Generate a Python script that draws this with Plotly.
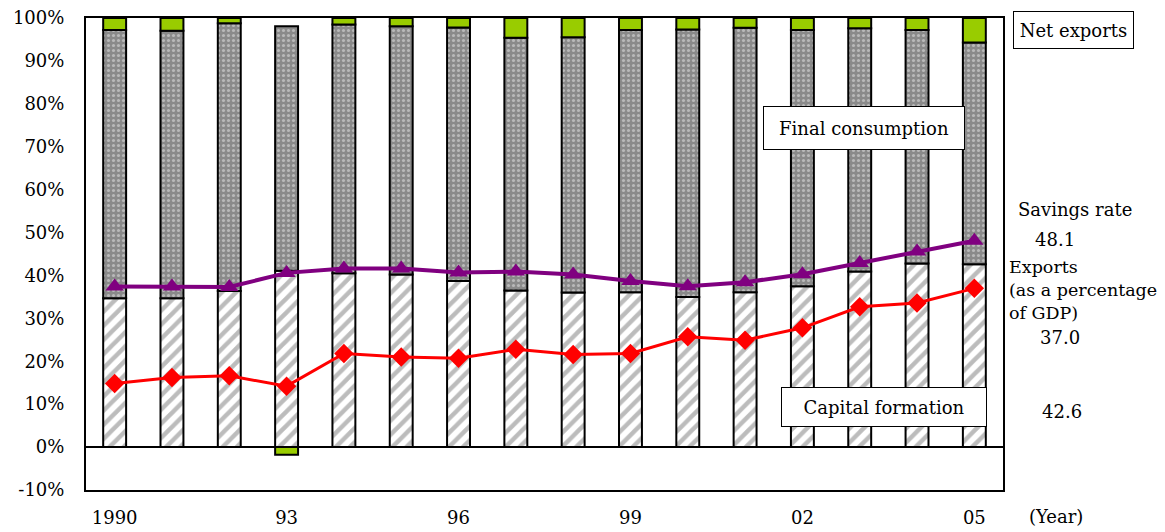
import plotly.graph_objects as go

years = list(range(1990, 2006))
capital_formation = [34.7, 34.7, 36.4, 41.1, 40.5, 40.2, 38.7, 36.5, 36.0, 36.1, 35.0, 36.1, 37.5, 40.9, 42.8, 42.6]
final_consumption = [62.5, 62.3, 62.4, 57.0, 58.0, 57.9, 59.1, 58.9, 59.5, 61.1, 62.3, 61.6, 59.7, 56.7, 54.4, 51.7]
net_exports = [2.8, 3.0, 1.2, -1.8, 1.5, 1.9, 2.2, 4.6, 4.5, 2.8, 2.7, 2.3, 2.8, 2.4, 2.8, 5.7]
savings_rate = [37.4, 37.4, 37.3, 40.6, 41.6, 41.6, 40.7, 40.9, 40.2, 38.7, 37.5, 38.4, 40.3, 42.9, 45.6, 48.1]
exports_pct = [14.8, 16.2, 16.6, 14.2, 21.8, 21.0, 20.7, 22.8, 21.6, 21.8, 25.7, 24.9, 27.8, 32.7, 33.6, 37.0]
tick_years = [1990, 1993, 1996, 1999, 2002, 2005]
tick_text = ["1990", "93", "96", "99", "02", "05"]
y_ticks = list(range(-10, 101, 10))
y_tick_text = [f"{v}%" for v in y_ticks]

FONT = "DejaVu Serif"
FS = 18

fig = go.Figure()
fig.add_trace(go.Bar(
    x=years, y=capital_formation, name="Capital formation", width=0.4,
    marker=dict(color="white", line=dict(color="black", width=2),
                pattern=dict(shape="/", fgcolor="#7a7a7a", bgcolor="white", size=10, solidity=0.45)),
))
fig.add_trace(go.Bar(
    x=years, y=final_consumption, name="Final consumption", width=0.4,
    marker=dict(color="#8a8a8a", line=dict(color="black", width=2),
                pattern=dict(shape=".", fgcolor="#e8e8e8", bgcolor="#8a8a8a", size=5, solidity=0.3)),
))
fig.add_trace(go.Bar(
    x=years, y=net_exports, name="Net exports", width=0.4,
    marker=dict(color="#99cc00", line=dict(color="black", width=2)),
))
fig.add_trace(go.Scatter(
    x=years, y=savings_rate, mode="lines+markers", name="Savings rate",
    line=dict(color="#800080", width=4),
    marker=dict(symbol="triangle-up", size=16, color="#800080"),
))
fig.add_trace(go.Scatter(
    x=years, y=exports_pct, mode="lines+markers", name="Exports",
    line=dict(color="#ff0000", width=3),
    marker=dict(symbol="diamond", size=15, color="#ff0000"),
))

def box(text, x, y, w, h):
    return dict(text=text, x=x, y=y, xref="paper", yref="paper", showarrow=False,
                xanchor="center", yanchor="middle", width=w, height=h,
                bgcolor="white", bordercolor="black", borderwidth=1, borderpad=0,
                font=dict(family=FONT, size=FS, color="black"))

def txt(text, x, y, xanchor="center", align="center", size=FS):
    return dict(text=text, x=x, y=y, xref="paper", yref="paper", showarrow=False,
                xanchor=xanchor, yanchor="middle", align=align,
                font=dict(family=FONT, size=size, color="black"))

annotations = [
    box("Net exports", 1.0769, 0.9756, 119, 36),
    box("Final consumption", 0.8484, 0.7669, 200, 42),
    box("Capital formation", 0.8702, 0.1758, 204, 38),
    txt("Savings rate", 1.078, 0.595),
    txt("48.1", 1.0567, 0.5297),
    txt("Exports<br>(as a percentage<br>of GDP)", 1.0045, 0.4236, xanchor="left", align="left", size=17.5),
    txt("37.0", 1.0622, 0.3240),
    txt("42.6", 1.0643, 0.1653),
    txt("(Year)", 1.0578, -0.0572),
]

fig.update_layout(
    barmode="relative",
    width=1165, height=532,
    margin=dict(l=86, r=162, t=18, b=42),
    paper_bgcolor="white", plot_bgcolor="white",
    showlegend=False,
    font=dict(family=FONT, size=FS, color="black"),
    annotations=annotations,
)
fig.update_xaxes(
    range=[1989.5, 2005.5], tickvals=tick_years, ticktext=tick_text,
    showgrid=False, zeroline=False, showline=True, linecolor="black", linewidth=2,
    mirror=True, ticks="", ticklabelstandoff=10, automargin=False,
    tickfont=dict(family=FONT, size=FS, color="black"),
)
fig.update_yaxes(
    range=[-10, 100], tickvals=y_ticks, ticktext=y_tick_text,
    showgrid=False, zeroline=True, zerolinecolor="black", zerolinewidth=1.5,
    showline=True, linecolor="black", linewidth=2, mirror=True, ticks="",
    ticklabelstandoff=16, automargin=False,
    tickfont=dict(family=FONT, size=FS, color="black"),
)

fig.write_html("out.html")
